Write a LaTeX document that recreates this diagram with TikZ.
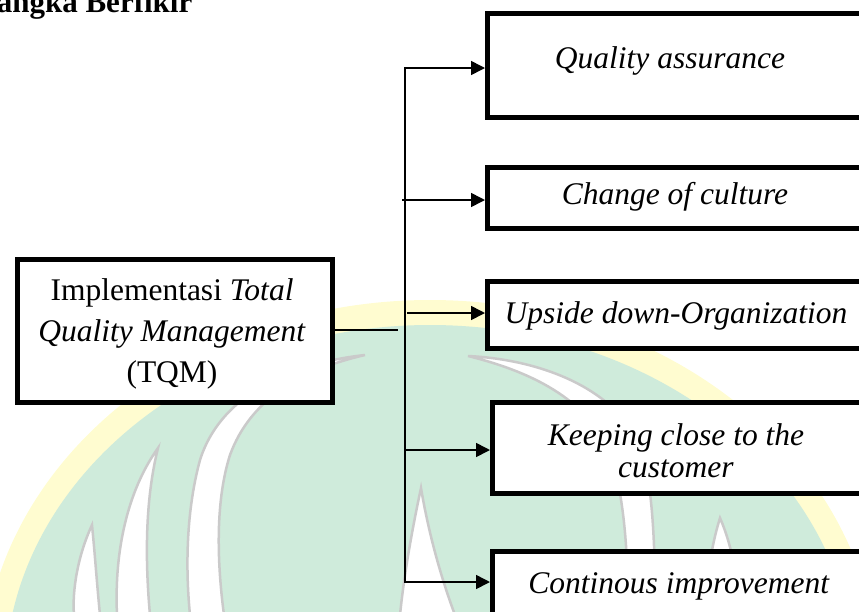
\documentclass[tikz,border=0pt]{standalone}
\usepackage{fontspec}
\setmainfont{Liberation Serif}
\usetikzlibrary{arrows.meta,calc}
\definecolor{wmgreen}{RGB}{207,235,219}
\definecolor{wmyellow}{RGB}{255,252,208}
\definecolor{wmgrey}{RGB}{202,202,202}
\begin{document}
\begin{tikzpicture}[x=1pt,y=-1pt,
  box/.style={draw, line width=5pt, fill=white, inner sep=0pt, anchor=north west},
  txt/.style={font=\fontsize{31.5}{38}\selectfont, inner sep=0pt, anchor=base},
  arr/.style={line width=1.6pt, -{Triangle[length=14pt,width=14pt]}},
  ln/.style={line width=1.6pt},
  stripe/.style={fill=white, draw=wmgrey, line width=2.5pt}]
\useasboundingbox (0,0) rectangle (859,611);
% watermark
\begin{scope}
\clip (0,0) rectangle (859,611);
\fill[wmyellow] (430,680) ellipse [x radius=448, y radius=380];
\fill[wmgreen] (430,680) ellipse [x radius=425, y radius=355];
\filldraw[stripe] (365,355) .. controls (300,362) and (222,390) .. (200,460) .. controls (185,515) and (186,575) .. (190,615) -- (224,615) .. controls (218,570) and (214,505) .. (230,455) .. controls (250,400) and (300,370) .. (365,355) -- cycle;
\filldraw[stripe] (158,448) .. controls (128,490) and (114,550) .. (117,615) -- (150,615) .. controls (145,560) and (145,500) .. (158,448) -- cycle;
\filldraw[stripe] (92,525) .. controls (78,555) and (72,590) .. (74,615) -- (100,615) .. controls (97,585) and (95,555) .. (92,525) -- cycle;
\filldraw[stripe] (421,488) .. controls (412,530) and (404,575) .. (400,615) -- (455,615) .. controls (440,575) and (428,530) .. (421,488) -- cycle;
\filldraw[stripe] (468,356) .. controls (550,360) and (625,395) .. (643,455) .. controls (655,500) and (655,570) .. (655,615) -- (628,615) .. controls (628,565) and (626,505) .. (612,460) .. controls (595,408) and (545,375) .. (468,356) -- cycle;
\filldraw[stripe] (720,518) .. controls (710,550) and (706,585) .. (706,615) -- (740,615) .. controls (738,580) and (732,545) .. (720,518) -- cycle;
\end{scope}
% title (cut off at the top, as in the reference)
\node[font=\fontsize{31}{36}\selectfont\bfseries, inner sep=0pt, anchor=base west] (title) at (-55,12) {Kerangka Berfikir};
% boxes
\node[box, line width=4.5pt, minimum width=315pt, minimum height=143pt] (L) at (15,257) {};
\node[box, minimum width=385pt, minimum height=104pt] (b1) at (485,11) {};
\node[box, minimum width=385pt, minimum height=61pt] (b2) at (485,165) {};
\node[box, minimum width=385pt, minimum height=67pt] (b3) at (485,279) {};
\node[box, minimum width=380pt, minimum height=91pt] (b4) at (490,400) {};
\node[box, minimum width=380pt, minimum height=100pt] (b5) at (490,549) {};
% texts
\node[txt] (tL1) at (172,300) {Implementasi \textit{Total}};
\node[txt] (tL2) at (172,341) {\textit{Quality Management}};
\node[txt] (tL3) at (172,382) {(TQM)};
\node[txt] (t1) at (670,68) {\textit{Quality assurance}};
\node[txt] (t2) at (675,204) {\textit{Change of culture}};
\node[txt] (t3) at (676,323) {\textit{Upside down-Organization}};
\node[txt] (t4a) at (676,445) {\textit{Keeping close to the}};
\node[txt] (t4b) at (676,477) {\textit{customer}};
\node[txt] (t5) at (679,593) {\textit{Continous improvement}};
% connectors
\coordinate (v1) at (405,68);
\coordinate (v5) at (405,582);
\coordinate (s2) at (402,200);
\coordinate (s3) at (407,313);
\coordinate (s4) at (405,450);
\coordinate (j) at (398,330);
\draw[ln, line cap=rect] (v5) -- (v1);
\draw[arr] (v1) -- (v1 -| b1.west);
\draw[arr] (s2) -- (s2 -| b2.west);
\draw[arr] (s3) -- (s3 -| b3.west);
\draw[arr] (s4) -- (s4 -| b4.west);
\draw[arr] (v5) -- (v5 -| b5.west);
\draw[ln] (L.east |- j) -- (j);
\end{tikzpicture}
\end{document}
